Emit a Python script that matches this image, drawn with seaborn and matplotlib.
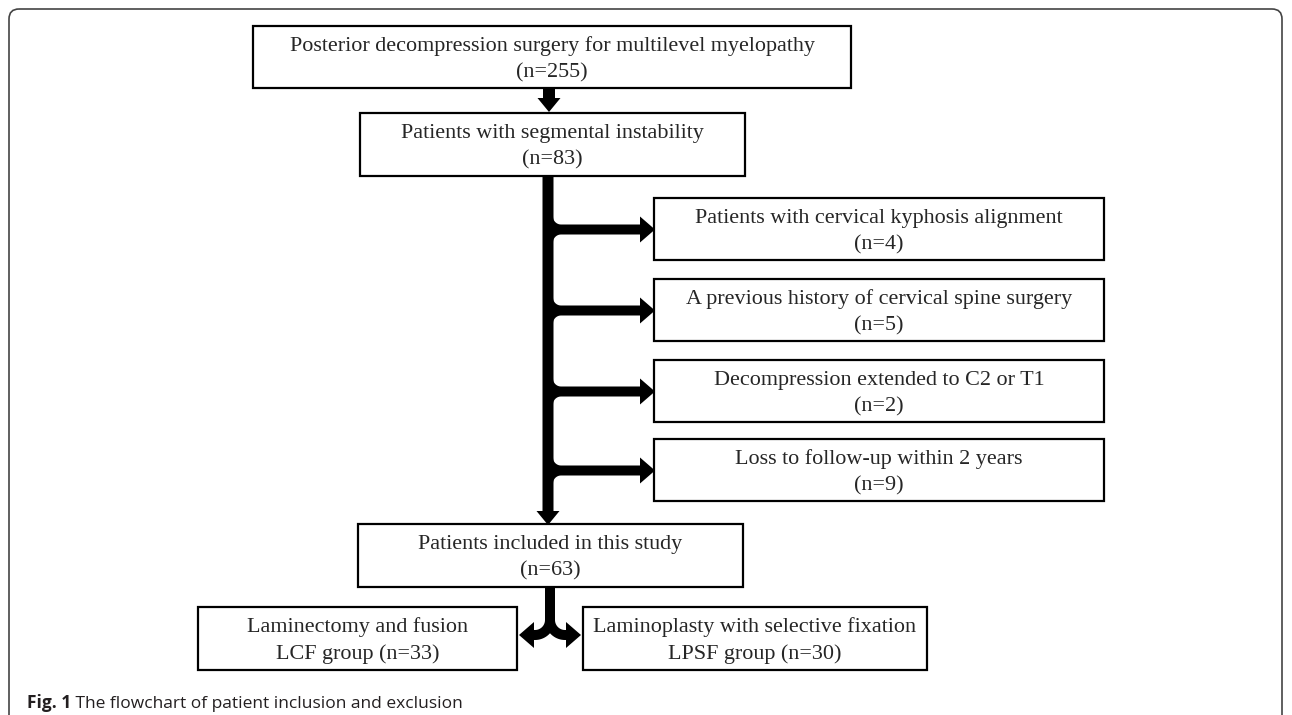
import numpy as np
import seaborn as sns
import matplotlib.pyplot as plt
from matplotlib.patches import Rectangle, Polygon, FancyBboxPatch
from matplotlib.path import Path
from matplotlib.patches import PathPatch

# flowchart content
main_steps = [
    "Posterior decompression surgery for multilevel myelopathy",
    "Patients with segmental instability",
    "Patients included in this study",
]
main_counts = [255, 83, 63]
excluded_reasons = [
    "Patients with cervical kyphosis alignment",
    "A previous history of cervical spine surgery",
    "Decompression extended to C2 or T1",
    "Loss to follow-up within 2 years",
]
excluded_counts = [4, 5, 2, 9]
group_names = ["Laminectomy and fusion", "Laminoplasty with selective fixation"]
group_codes = ["LCF", "LPSF"]
group_counts = [33, 30]
caption_bold = "Fig. 1"
caption_text = " The flowchart of patient inclusion and exclusion"

sns.set_theme(style="white")
plt.rcParams["font.family"] = ["Liberation Serif", "DejaVu Serif"]

W, H = 1292, 715
fig = plt.figure(figsize=(W / 100, H / 100), dpi=100)
ax = fig.add_axes([0, 0, 1, 1])
ax.set_xlim(0, W)
ax.set_ylim(H, 0)
ax.axis("off")

FS = 15.9
LW = 1.6


def box(x0, x1, y0, y1, line1, line2):
    ax.add_patch(Rectangle((x0, y0), x1 - x0, y1 - y0, fill=False,
                           lw=LW, ec="black", zorder=3))
    cx, cy = (x0 + x1) / 2, (y0 + y1) / 2
    ax.text(cx, cy - 11, line1, ha="center", va="center", fontsize=FS, zorder=4)
    ax.text(cx, cy + 15.5, line2, ha="center", va="center", fontsize=FS, zorder=4)


def down_arrow(x, y0, y1, head=14, hw=11.5, sw=5.5):
    pts = [(x - sw, y0), (x + sw, y0), (x + sw, y1 - head), (x + hw, y1 - head),
           (x, y1), (x - hw, y1 - head), (x - sw, y1 - head)]
    ax.add_patch(Polygon(pts, closed=True, fc="black", ec="none", zorder=2))


def branch(xs, yb, xt, r=8, sw=5, head=15, hw=13):
    t = np.linspace(np.pi, np.pi / 2, 12)
    top = [(xs + r + r * np.cos(a), yb - sw - r + r * np.sin(a)) for a in t]
    t2 = np.linspace(1.5 * np.pi, np.pi, 12)
    bot = [(xs + r + r * np.cos(a), yb + sw + r + r * np.sin(a)) for a in t2]
    pts = top + [(xt - head, yb - sw), (xt - head, yb - hw), (xt, yb),
                 (xt - head, yb + hw), (xt - head, yb + sw)] + bot
    ax.add_patch(Polygon(pts, closed=True, fc="black", ec="none", zorder=2))


# outer frame
ax.add_patch(FancyBboxPatch((9, 9), W - 19, H + 20,
                            boxstyle="round,pad=0,rounding_size=10",
                            fill=False, ec="#444444", lw=1.2, zorder=1,
                            clip_on=True))

# main boxes
box(253, 851, 26, 88, main_steps[0], f"(n={main_counts[0]})")
box(360, 745, 113, 176, main_steps[1], f"(n={main_counts[1]})")
box(358, 743, 524, 587, main_steps[2], f"(n={main_counts[2]})")

down_arrow(549, 88, 112, sw=6)
down_arrow(548, 176, 525)

# exclusion boxes
ex_tops = [198, 279, 360, 439]
for top, reason, n in zip(ex_tops, excluded_reasons, excluded_counts):
    box(654, 1104, top, top + 62, reason, f"(n={n})")
    branch(553, top + 31.5, 655)

# group boxes
box(198, 517, 607, 670, group_names[0], f"{group_codes[0]} group (n={group_counts[0]})")
box(583, 927, 607, 670, group_names[1], f"{group_codes[1]} group (n={group_counts[1]})")

# split arrow
lw_pt = 10 * 72 / 100
for side in (-1, 1):
    R = 15
    cxa = 550 + side * R
    ang = np.linspace(0, np.pi / 2, 20)
    verts = [(550, 587)] + [(cxa - side * R * np.cos(a), 620 + R * np.sin(a)) for a in ang]
    verts.append((550 + side * 17, 635))
    codes = [Path.MOVETO] + [Path.LINETO] * (len(verts) - 1)
    ax.add_patch(PathPatch(Path(verts, codes), fill=False, ec="black",
                           lw=lw_pt, capstyle="butt", joinstyle="round", zorder=2))
    hb = 550 + side * 16
    tip = 550 + side * 31
    ax.add_patch(Polygon([(hb, 622), (tip, 635), (hb, 648)], closed=True,
                         fc="black", ec="none", zorder=2))

# caption
cap_font = ["Open Sans", "DejaVu Sans"]
t1 = ax.text(27, 708, caption_bold, fontsize=12.5, fontweight="bold",
             family=cap_font, color="#231f20", va="baseline", ha="left")
fig.canvas.draw()
bb = t1.get_window_extent()
x_end = ax.transData.inverted().transform((bb.x1, bb.y0))[0]
ax.text(x_end, 708, caption_text, fontsize=12.5, family=cap_font,
        color="#231f20", va="baseline", ha="left")

fig.savefig("out.png", dpi=100, facecolor="white")
